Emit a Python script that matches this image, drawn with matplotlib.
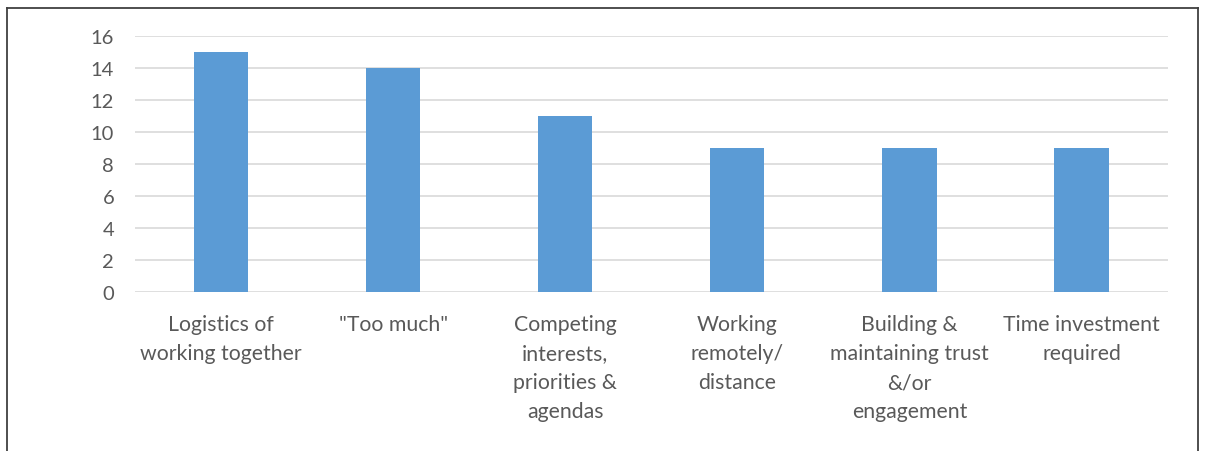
import matplotlib.pyplot as plt
from matplotlib.lines import Line2D

# datos
categorias = ["Logistics of\nworking together", "\"Too much\"",
              "Competing\ninterests,\npriorities &\nagendas",
              "Working\nremotely/\ndistance",
              "Building &\nmaintaining trust\n&/or\nengagement",
              "Time investment\nrequired"]
valores = [15, 14, 11, 9, 9, 9]
yticks = [0, 2, 4, 6, 8, 10, 12, 14, 16]

plt.rcParams['font.family'] = ['Lato', 'DejaVu Sans']
texto = '#595959'

fig = plt.figure(figsize=(12.05, 4.52), dpi=100)
ax = fig.add_axes([0.112, 0.352, 0.857, 0.566])

x = range(len(categorias))
ax.bar(x, valores, width=0.315, color='#5B9BD5', zorder=3)

ax.set_xlim(-0.5, len(categorias) - 0.5)
ax.set_ylim(0, 16)
ax.set_yticks(yticks)
ax.set_xticks(list(x))
ax.set_xticklabels(categorias, fontsize=15.3, color=texto, linespacing=1.56, va='top')
ax.tick_params(axis='y', length=0, pad=15, labelsize=14.5, labelcolor=texto)
ax.tick_params(axis='x', length=0, pad=16)
ax.grid(axis='y', color='#D9D9D9', linewidth=1.2, zorder=0)
for s in ax.spines.values():
    s.set_visible(False)

# marco exterior (sin borde inferior)
for xs, ys in [([0.006, 0.006], [0.0, 0.981]), ([0.006, 0.994], [0.981, 0.981]),
               ([0.994, 0.994], [0.981, 0.0])]:
    fig.add_artist(Line2D(xs, ys, color='#404040', linewidth=1.3, transform=fig.transFigure))

plt.savefig("out.png", dpi=100)
plt.close()
